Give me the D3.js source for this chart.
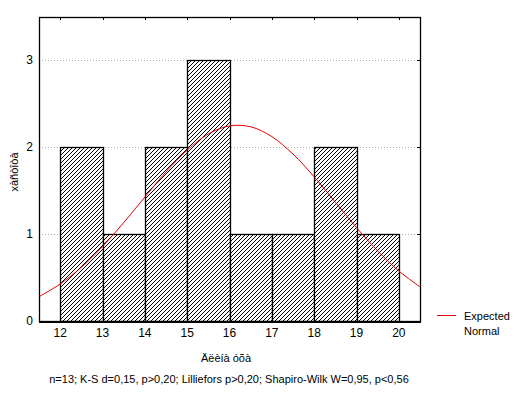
<!DOCTYPE html>
<html><head><meta charset="utf-8">
<script src="https://cdn.jsdelivr.net/npm/d3@7"></script>
<style>body{margin:0;background:#fff}text{font-family:"Liberation Sans",Arial,sans-serif}</style>
</head><body>
<svg id="c" width="517" height="394"></svg>
<script>
const binStarts = [12,13,14,15,16,17,18,19];
const counts = [2,1,2,3,1,1,2,1];
const xTicks = [12,13,14,15,16,17,18,19,20];
const yTicks = [0,1,2,3];
const curveX = [11.5,12,12.5,13,13.5,14,14.5,15,15.5,16,16.5,17,17.5,18,18.5,19,19.5,20,20.5];
const curveY = [0.28,0.426,0.618,0.857,1.132,1.427,1.716,1.968,2.153,2.246,2.236,2.123,1.922,1.66,1.368,1.075,0.806,0.576,0.393];
const xTitle = "Äëèíà óõà";
const yTitle = "xàñòîòà";
const note = "n=13; K-S d=0,15, p>0,20; Lilliefors p>0,20; Shapiro-Wilk W=0,95, p<0,56";
const legendLabel = ["Expected","Normal"];

const svg = d3.select("#c");
const L=39, T=17, R=420, B=321;
const x = d3.scaleLinear().domain([11.5,20.5]).range([L,R]);
const y = d3.scaleLinear().domain([0,3.5]).range([B,T]);

const defs = svg.append("defs");
const pat = defs.append("pattern").attr("id","hatch").attr("patternUnits","userSpaceOnUse")
  .attr("width",4).attr("height",4);
pat.append("rect").attr("width",4).attr("height",4).attr("fill","#fff");
[[0,3],[1,2],[2,1],[3,0]].forEach(p=>pat.append("rect").attr("x",p[0]).attr("y",p[1]).attr("width",1).attr("height",1).attr("fill","#000").attr("shape-rendering","crispEdges"));
defs.append("clipPath").attr("id","clip").append("rect").attr("x",L).attr("y",T).attr("width",R-L).attr("height",B-T);

// gridlines
svg.append("g").selectAll("line").data(yTicks.filter(d=>d>0)).join("line")
  .attr("x1",L).attr("x2",R).attr("y1",d=>Math.round(y(d))+0.5).attr("y2",d=>Math.round(y(d))+0.5)
  .attr("stroke","#aaa").attr("stroke-dasharray","1,2");

// bars
svg.append("g").selectAll("rect").data(binStarts).join("rect")
  .attr("x",(d)=>Math.round(x(d))+0.5).attr("width",d=>Math.round(x(d+1))-Math.round(x(d)))
  .attr("y",(d,i)=>Math.round(y(counts[i]))+0.5).attr("height",(d,i)=>Math.round(y(0))-Math.round(y(counts[i])))
  .attr("fill","url(#hatch)").attr("stroke","#000").attr("stroke-width",1.3);

// curve
svg.append("path").datum(curveX.map((v,i)=>[v,curveY[i]]))
  .attr("clip-path","url(#clip)")
  .attr("d",d3.line().x(d=>x(d[0])).y(d=>y(d[1])).curve(d3.curveCatmullRom))
  .attr("fill","none").attr("stroke","#e00000").attr("stroke-width",1);

// frame
svg.append("rect").attr("x",L+0.5).attr("y",T+0.5).attr("width",R-L).attr("height",B-T)
  .attr("fill","none").attr("stroke","#000").attr("stroke-width",1.3);
svg.append("line").attr("x1",L).attr("x2",R+1).attr("y1",B+1).attr("y2",B+1).attr("stroke","#000").attr("stroke-width",2);

// top ticks
svg.append("g").selectAll("line").data(xTicks).join("line")
  .attr("x1",d=>Math.round(x(d))+0.5).attr("x2",d=>Math.round(x(d))+0.5).attr("y1",T).attr("y2",T+3).attr("stroke","#000");
// right ticks
svg.append("g").selectAll("line").data(yTicks.filter(d=>d>0)).join("line")
  .attr("x1",R-3).attr("x2",R).attr("y1",d=>Math.round(y(d))+0.5).attr("y2",d=>Math.round(y(d))+0.5).attr("stroke","#000");

// tick labels
svg.append("g").selectAll("text").data(xTicks).join("text")
  .attr("x",d=>x(d)).attr("y",337).attr("text-anchor","middle").attr("font-size",12).text(d=>d);
svg.append("g").selectAll("text").data(yTicks).join("text")
  .attr("x",33).attr("y",d=>y(d)+4).attr("text-anchor","end").attr("font-size",12).text(d=>d);

// titles
svg.append("text").attr("x",226).attr("y",362).attr("text-anchor","middle").attr("font-size",11).text(xTitle);
svg.append("text").attr("transform","translate(18,172) rotate(-90)").attr("text-anchor","middle").attr("font-size",11).text(yTitle);
svg.append("text").attr("x",229).attr("y",383).attr("text-anchor","middle").attr("font-size",11).text(note);

// legend
svg.append("line").attr("x1",437).attr("x2",456).attr("y1",315.5).attr("y2",315.5).attr("stroke","#e00000");
svg.append("g").selectAll("text").data(legendLabel).join("text")
  .attr("x",464).attr("y",(d,i)=>320+i*15).attr("font-size",11).text(d=>d);
</script>
</body></html>
